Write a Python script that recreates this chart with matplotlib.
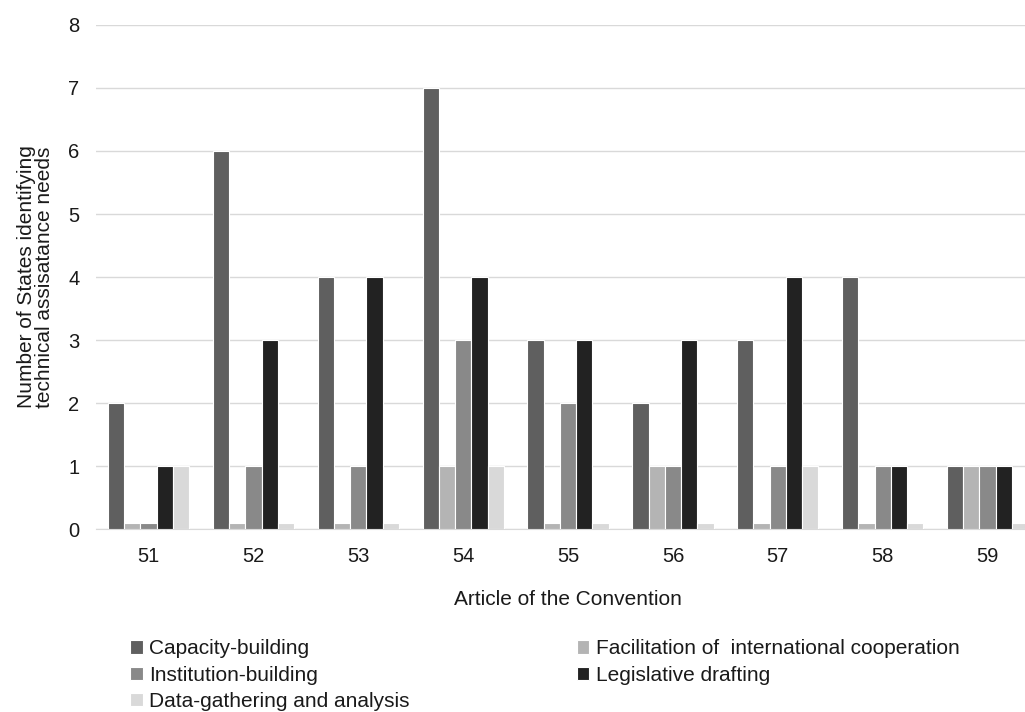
import matplotlib.pyplot as plt
import numpy as np

plt.rcParams['font.family'] = ['Liberation Sans', 'DejaVu Sans']

articles = ['51', '52', '53', '54', '55', '56', '57', '58', '59']
capacity = [2, 6, 4, 7, 3, 2, 3, 4, 1]
facilitation = [0.1, 0.1, 0.1, 1, 0.1, 1, 0.1, 0.1, 1]
institution = [0.1, 1, 1, 3, 2, 1, 1, 1, 1]
legislative = [1, 3, 4, 4, 3, 3, 4, 1, 1]
data_gathering = [1, 0.1, 0.1, 1, 0.1, 0.1, 1, 0.1, 0.1]

series = [
    ("Capacity-building", capacity, '#5f5f5f'),
    ("Facilitation of  international cooperation", facilitation, '#b4b4b4'),
    ("Institution-building", institution, '#898989'),
    ("Legislative drafting", legislative, '#222222'),
    ("Data-gathering and analysis", data_gathering, '#d9d9d9'),
]
txt = '#1a1a1a'

fig = plt.figure(figsize=(10.25, 7.12), dpi=100)
# the original chart is cut off on the right edge, so the axes run past the figure
ax = fig.add_axes([0.0937, 0.2570, 0.921, 0.7079])

x = np.arange(len(articles))
w = 0.155
handles = {}
for i, (name, vals, col) in enumerate(series):
    b = ax.bar(x + (i - 2) * w, vals, width=w, color=col, edgecolor='white', linewidth=0.8, zorder=3)
    handles[name] = b

ax.set_xlim(-0.5, len(articles) - 0.5)
ax.set_ylim(0, 8)
ax.set_yticks(range(0, 9))
ax.set_xticks(x)
ax.set_xticklabels(articles)
ax.tick_params(length=0, labelsize=14.5, colors=txt)
ax.tick_params(axis='x', pad=13)
ax.tick_params(axis='y', pad=12)
ax.grid(axis='y', color='#d9d9d9', linewidth=1, zorder=0)
for s in ['top', 'right', 'left']:
    ax.spines[s].set_visible(False)
ax.spines['bottom'].set_color('#d9d9d9')

ax.set_xlabel("Article of the Convention", fontsize=15, color=txt, labelpad=17)
ax.set_ylabel("Number of States identifying\ntechnical assisatance needs", fontsize=15, color=txt,
              labelpad=10, linespacing=0.95)

order = ["Capacity-building", "Institution-building", "Data-gathering and analysis",
         "Facilitation of  international cooperation", "Legislative drafting"]
leg = fig.legend([handles[n] for n in order], order, ncol=2, loc='upper left',
                 bbox_to_anchor=(0.127, 0.102), frameon=False, fontsize=15,
                 handlelength=0.62, handleheight=0.62, handletextpad=0.3,
                 columnspacing=8.0, labelspacing=0.35, borderaxespad=0, borderpad=0)
for t in leg.get_texts():
    t.set_color(txt)

fig.savefig('out.png', dpi=100)
